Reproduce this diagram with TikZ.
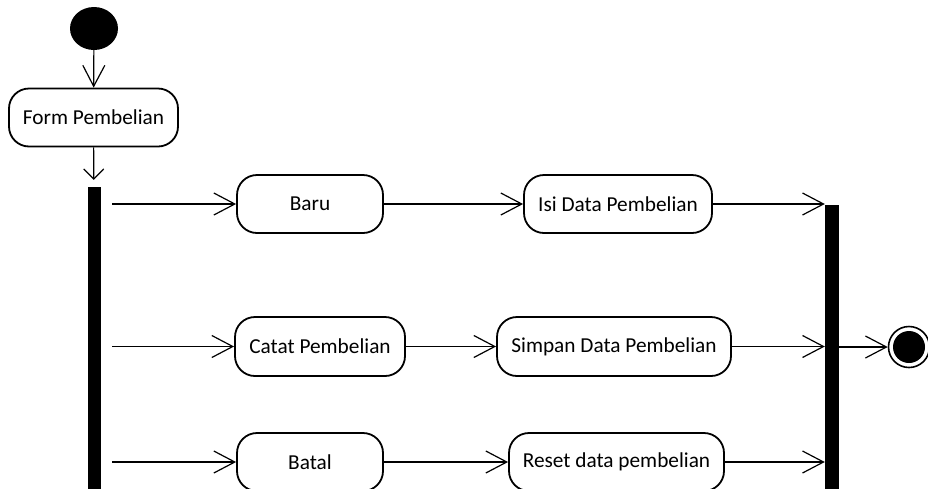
\documentclass[tikz,border=0pt]{standalone}
\usepackage{fontspec}
\setmainfont{Carlito}
\usetikzlibrary{arrows.meta,shapes.geometric}
\begin{document}
\begin{tikzpicture}[x=1pt,y=-1pt,
  action/.style={draw,line width=1.8pt,rounded corners=20pt,minimum height=58pt,
    inner sep=0pt,font=\fontsize{21.3}{24}\selectfont},
  bar/.style={fill=black,draw=none,inner sep=0pt,minimum width=13.5pt},
  flow/.style={line width=1.2pt,-{Straight Barb[length=21pt,width=22pt,line width=1.2pt]}},
  shortflow/.style={line width=1.2pt,-{Straight Barb[length=10pt,width=20pt,line width=1.2pt]}}]
\useasboundingbox (0,0) rectangle (928,488);

% initial and final states
\node[ellipse,fill=black,inner sep=0pt,minimum width=48pt,minimum height=43pt] (start) at (94,28.5) {};
\node[circle,draw,line width=1.6pt,inner sep=0pt,minimum size=41pt] (final) at (909,347) {};
\fill[black] (final.center) circle (16pt);

% actions
\node[action,minimum width=169pt] (form) at (93.5,117.5) {Form Pembelian};
\node[action,minimum width=146pt] (baru) at (310,204) {Baru};
\node[action,minimum width=188pt] (isi) at (618,204) {Isi Data Pembelian};
\node[action,minimum width=170pt,minimum height=59pt] (catat) at (320,346.5) {Catat Pembelian};
\node[action,minimum width=234pt,minimum height=59pt] (simpan) at (614,346.5) {Simpan Data Pembelian};
\node[action,minimum width=146pt] (batal) at (310,462) {Batal};
\node[action,minimum width=215pt] (reset) at (616.5,462) {Reset data pembelian};

% fork and join bars
\node[bar,minimum height=303pt] (fork) at (94.5,338.5) {};
\node[bar,minimum width=14pt,minimum height=285pt] (join) at (832,347.5) {};

% flows
\draw[flow] (start) -- (form);
\draw[shortflow,shorten >=7pt] (form) -- (fork);

\draw[flow,shorten <=11pt] (fork.east |- baru) -- (baru);
\draw[flow,shorten <=11pt] (fork.east |- catat) -- (catat);
\draw[flow,shorten <=11pt] (fork.east |- batal) -- (batal);

\draw[flow] (baru) -- (isi);
\draw[flow] (catat) -- (simpan);
\draw[flow] (batal) -- (reset);

\draw[flow] (isi) -- (join.west |- isi);
\draw[flow] (simpan) -- (join.west |- simpan);
\draw[flow] (reset) -- (join.west |- reset);

\draw[flow] (join.east |- final) -- (final);
\end{tikzpicture}
\end{document}
